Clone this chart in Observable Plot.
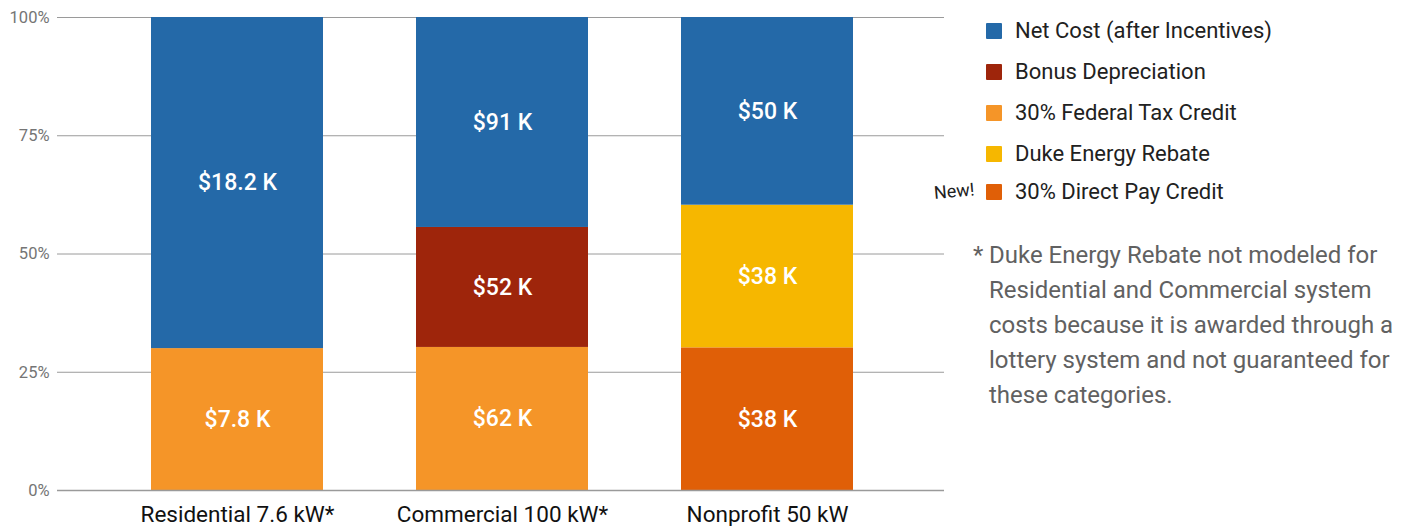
<!DOCTYPE html>
<html>
<head>
<meta charset="utf-8">
<script src="https://cdn.jsdelivr.net/npm/d3@7"></script>
<script src="https://cdn.jsdelivr.net/npm/@observablehq/plot@0.6"></script>
<style>
  html, body { margin: 0; padding: 0; background: #fff; }
  #wrap { position: relative; width: 1409px; height: 526px; font-family: Roboto, sans-serif; }
  #chart { position: absolute; left: 0; top: 0; }
  .legend { position: absolute; left: 986px; top: 0; }
  .item { position: absolute; left: 0; white-space: nowrap; font-size: 22px; color: #212121; line-height: 24px; }
  .sw { position: absolute; left: 0; top: 4px; width: 16px; height: 16px; border-radius: 1px; }
  .item span.t { position: absolute; left: 29px; top: 0; }
  .new { position: absolute; left: 934px; top: 182px; font-size: 18px; color: #212121; transform: rotate(-5deg); transform-origin: left center; }
  .note { position: absolute; left: 973px; top: 238px; font-size: 24px; color: #616161; line-height: 35px; white-space: nowrap; }
  .note .star { position: absolute; left: 0; top: 0; }
  .note .body { margin-left: 16px; }
</style>
</head>
<body>
<div id="wrap">
  <div id="chart"></div>
  <div id="legend" class="legend"></div>
  <div class="new">New!</div>
  <div class="note"><span class="star">*</span><div class="body">Duke Energy Rebate not modeled for<br>Residential and Commercial system<br>costs because it is awarded through a<br>lottery system and not guaranteed for<br>these categories.</div></div>
</div>
<script>
// Categories and series
const categories = ["Residential 7.6 kW*", "Commercial 100 kW*", "Nonprofit 50 kW"];
const seriesNames = ["Net Cost (after Incentives)", "Bonus Depreciation", "30% Federal Tax Credit", "Duke Energy Rebate", "30% Direct Pay Credit"];
const seriesColors = ["#2469a8", "#9e250b", "#f59528", "#f6b700", "#e05f07"];
// Values in $ thousands, per category
const netCost    = [18.2, 91, 50];
const bonusDep   = [0, 52, 0];
const taxCredit  = [7.8, 62, 0];
const dukeRebate = [0, 0, 38];
const directPay  = [0, 0, 38];
const yTicks = [0, 0.25, 0.5, 0.75, 1];

// Build rows bottom-to-top within each category
const stackOrder = [
  ["30% Federal Tax Credit", taxCredit],
  ["30% Direct Pay Credit", directPay],
  ["Bonus Depreciation", bonusDep],
  ["Duke Energy Rebate", dukeRebate],
  ["Net Cost (after Incentives)", netCost]
];
const rows = [];
categories.forEach((c, i) => {
  stackOrder.forEach(([s, arr]) => {
    if (arr[i] > 0) rows.push({category: c, series: s, value: arr[i]});
  });
});

const fmt = v => "$" + v + " K";

const plot = Plot.plot({
  width: 1409,
  height: 526,
  marginLeft: 57,
  marginRight: 465,
  marginTop: 17,
  marginBottom: 36,
  style: {fontFamily: "Roboto, sans-serif", background: "#fff"},
  x: {domain: categories, range: [61, 944], paddingInner: 0.35, paddingOuter: 0.34, label: null, tickSize: 0},
  y: {domain: [0, 1], label: null},
  color: {domain: seriesNames, range: seriesColors},
  marks: [
    Plot.gridY(yTicks, {stroke: "#9a9a9a", strokeOpacity: 1, strokeWidth: 1}),
    Plot.barY(rows, Plot.stackY({x: "category", y: "value", fill: "series", z: "series", offset: "normalize", order: null})),
    Plot.ruleY([0], {stroke: "#9a9a9a", strokeWidth: 1.5}),
    Plot.text(rows, Plot.stackY({x: "category", y: "value", z: "series", offset: "normalize", order: null, text: d => fmt(d.value), fill: "#fff", fontSize: 23, fontWeight: 500})),
    Plot.axisY(yTicks, {tickSize: 0, tickPadding: 8, tickFormat: d => Math.round(d * 100) + "%", fontSize: 16.5, fill: "#757575", label: null}),
    Plot.axisX({tickSize: 0, tickPadding: 16, fontSize: 22.5, fill: "#111", label: null})
  ]
});
document.getElementById("chart").appendChild(plot);

// Legend
const legendTops = [19, 60, 101, 142, 180];
const leg = document.getElementById("legend");
seriesNames.forEach((name, i) => {
  const it = document.createElement("div");
  it.className = "item";
  it.style.top = legendTops[i] + "px";
  const sw = document.createElement("div");
  sw.className = "sw";
  sw.style.background = seriesColors[i];
  const t = document.createElement("span");
  t.className = "t";
  t.textContent = name;
  it.appendChild(sw);
  it.appendChild(t);
  leg.appendChild(it);
});
</script>
</body>
</html>
